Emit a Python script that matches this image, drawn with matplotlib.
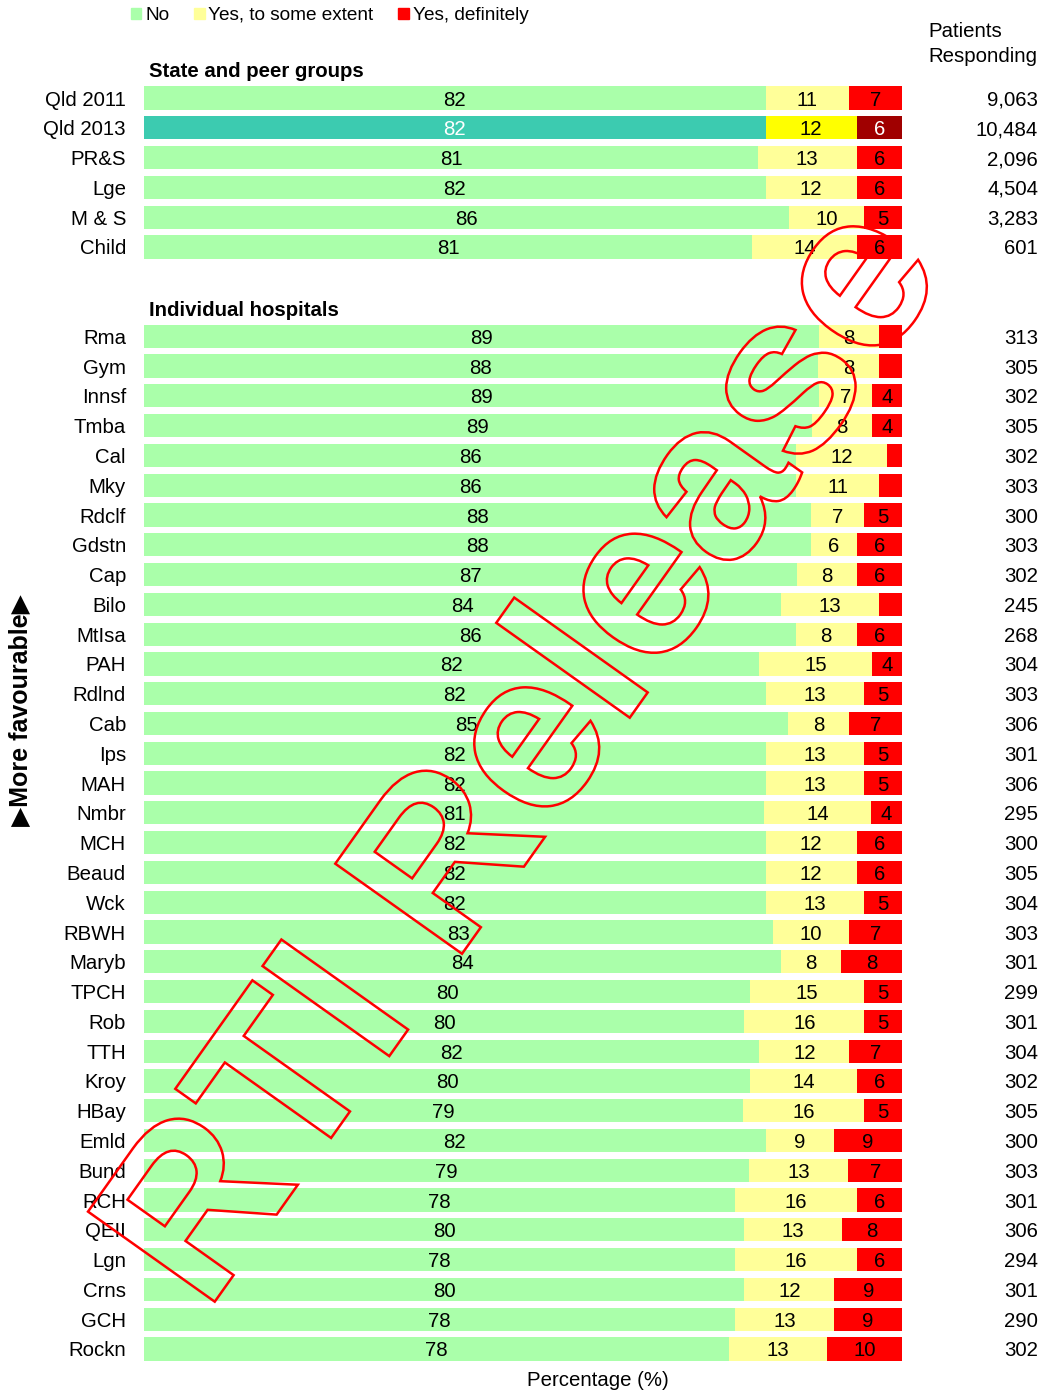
import numpy as np
import matplotlib.pyplot as plt
from matplotlib.patches import Patch, PathPatch
from matplotlib.textpath import TextPath
from matplotlib.font_manager import FontProperties
from matplotlib.transforms import Affine2D, IdentityTransform, blended_transform_factory

plt.rcParams['font.family'] = ['Liberation Sans', 'DejaVu Sans']

# State and peer groups
group_names = ["Qld 2011", "Qld 2013", "PR&S", "Lge", "M & S", "Child"]
group_no = [82, 82, 81, 82, 86, 81]
group_some = [11, 12, 13, 12, 10, 14]
group_def = [7, 6, 6, 6, 5, 6]
group_n = [9063, 10484, 2096, 4504, 3283, 601]

# Individual hospitals
hosp_names = ["Rma", "Gym", "Innsf", "Tmba", "Cal", "Mky", "Rdclf", "Gdstn", "Cap",
              "Bilo", "MtIsa", "PAH", "Rdlnd", "Cab", "Ips", "MAH", "Nmbr", "MCH",
              "Beaud", "Wck", "RBWH", "Maryb", "TPCH", "Rob", "TTH", "Kroy", "HBay",
              "Emld", "Bund", "RCH", "QEII", "Lgn", "Crns", "GCH", "Rockn"]
hosp_no = [89, 88, 89, 89, 86, 86, 88, 88, 87, 84, 86, 82, 82, 85, 82, 82, 81, 82,
           82, 82, 83, 84, 80, 80, 82, 80, 79, 82, 79, 78, 80, 78, 80, 78, 78]
hosp_some = [8, 8, 7, 8, 12, 11, 7, 6, 8, 13, 8, 15, 13, 8, 13, 13, 14, 12,
             12, 13, 10, 8, 15, 16, 12, 14, 16, 9, 13, 16, 13, 16, 12, 13, 13]
hosp_def = [3, 3, 4, 4, 2, 3, 5, 6, 6, 3, 6, 4, 5, 7, 5, 5, 4, 6,
            6, 5, 7, 8, 5, 5, 7, 6, 5, 9, 7, 6, 8, 6, 9, 9, 10]
hosp_n = [313, 305, 302, 305, 302, 303, 300, 303, 302, 245, 268, 304, 303, 306,
          301, 306, 295, 300, 305, 304, 303, 301, 299, 301, 304, 302, 305, 300,
          303, 301, 306, 294, 301, 290, 302]

series_names = ["No", "Yes, to some extent", "Yes, definitely"]
highlight = "Qld 2013"


def main():
    W, H = 1046, 1393
    fig = plt.figure(figsize=(W / 100, H / 100), dpi=100)
    ax = fig.add_axes([144 / W, 0.0209, 758 / W, 0.9408])

    names = group_names + hosp_names
    ypos = np.array(list(range(1, 7)) + list(range(9, 44)))
    vals = np.array([group_no + hosp_no, group_some + hosp_some,
                     group_def + hosp_def], dtype=float)
    widths = 100 * vals / vals.sum(axis=0)

    base = ["#AAFFAA", "#FFFF99", "#FF0000"]
    hi = ["#3CCBB0", "#FFFF00", "#A00000"]
    hi_txt = ["white", "black", "white"]
    fs = 14.7

    left = np.zeros(len(names))
    for k in range(3):
        cols = [hi[k] if n == highlight else base[k] for n in names]
        ax.barh(ypos, widths[k], left=left, height=0.78, color=cols, lw=0)
        for i, n in enumerate(names):
            v = int(vals[k, i])
            if v >= 4:
                ax.text(left[i] + widths[k, i] / 2, ypos[i], str(v),
                        ha="center", va="center_baseline", fontsize=fs,
                        color=hi_txt[k] if n == highlight else "black")
        left = left + widths[k]

    ax.set_xlim(0, 100)
    ax.set_ylim(43.5, -0.5)
    ax.set_yticks(ypos)
    ax.set_yticklabels(names, fontsize=fs)
    ax.tick_params(axis="y", length=0, pad=13)
    ax.set_xticks([])
    for s in ax.spines.values():
        s.set_visible(False)

    ax.text(0.7, 0.05, "State and peer groups", fontsize=fs, fontweight="bold",
            ha="left", va="center_baseline")
    ax.text(0.7, 8.05, "Individual hospitals", fontsize=fs, fontweight="bold",
            ha="left", va="center_baseline")

    # patients responding column
    tr = blended_transform_factory(fig.transFigure, ax.transData)
    for y, n in zip(ypos, group_n + hosp_n):
        ax.text(1038 / W, y, f"{n:,}", transform=tr, ha="right",
                va="center_baseline", fontsize=fs)
    fig.text(928 / W, 1 - 44 / H, "Patients\nResponding", fontsize=fs,
             ha="left", va="center", linespacing=1.35)

    fig.text(598 / W, 1 - 1381 / H, "Percentage (%)", fontsize=fs,
             ha="center", va="center")
    fig.text(21 / W, 1 - 710 / H, "\u25B6More favourable\u25B6", rotation=90,
             fontsize=18, fontweight="bold", ha="center", va="center")

    handles = [Patch(color=c) for c in base]
    fig.legend(handles, series_names, loc="upper left",
               bbox_to_anchor=(131 / W, 1 - 7 / H), ncol=3, frameon=False,
               fontsize=13.7, handlelength=0.55, handleheight=0.55,
               handletextpad=0.2, columnspacing=1.3, borderpad=0,
               borderaxespad=0)

    # watermark
    tp = TextPath((0, 0), "RTI Release", size=226,
                  prop=FontProperties(family="Liberation Sans", weight="bold"))
    trans = Affine2D().rotate_deg(54.6).translate(206, H - 1314)
    fig.add_artist(PathPatch(trans.transform_path(tp), transform=IdentityTransform(),
                             facecolor="none", edgecolor="red", lw=1.8))

    fig.savefig("out.png", dpi=100)


if __name__ == "__main__":
    main()
